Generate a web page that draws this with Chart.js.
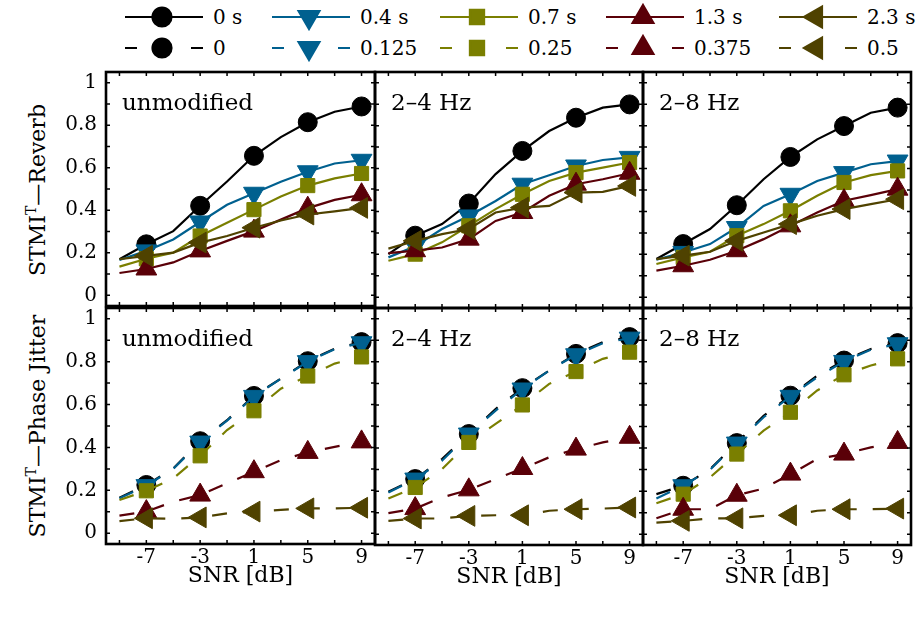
<!DOCTYPE html>
<html>
<head>
<meta charset="utf-8">
<script src="https://cdn.jsdelivr.net/npm/chart.js@4.4.1/dist/chart.umd.min.js"></script>
<style>
  html, body { margin: 0; padding: 0; }
  body { width: 918px; height: 617px; position: relative; overflow: hidden; background: #fff;
         font-family: 'DejaVu Serif', serif; color: #000; }
  canvas.panel { position: absolute; }
  .row-title { position: absolute; white-space: nowrap; font-size: 22px; line-height: 26px;
               transform: translate(-50%, -50%) rotate(-90deg); }
  .row-title sup { font-size: 14px; vertical-align: 9px; line-height: 0; }
  .lg-sym { position: absolute; }
  .lg-txt { position: absolute; font-size: 20px; line-height: 24px; white-space: nowrap; }
</style>
</head>
<body>
<div id="legend"></div>
<div class="row-title" style="left:38px;top:190px">STMI<sup>T</sup>—Reverb</div>
<div class="row-title" style="left:38px;top:426px">STMI<sup>T</sup>—Phase Jitter</div>
<script>
// SNR values of the simulation grid (dB); markers sit on the labelled ones
const snr = [-9, -7, -5, -3, -1, 1, 3, 5, 7, 9];
const snrTicks = [-7, -3, 1, 5, 9];
const stmiTicks = [0, 0.2, 0.4, 0.6, 0.8, 1];
const stmiMinor = [0, 0.1, 0.2, 0.3, 0.4, 0.5, 0.6, 0.7, 0.8, 0.9, 1];

const reverbLabels = ['0 s', '0.4 s', '0.7 s', '1.3 s', '2.3 s'];
const jitterLabels = ['0', '0.125', '0.25', '0.375', '0.5'];
const panelLabels = ['unmodified', '2–4 Hz', '2–8 Hz'];

// STMI^T with reverberation (one list per reverberation time)
const reverbUnmodified = [
  [0.170, 0.240, 0.302, 0.421, 0.535, 0.656, 0.744, 0.814, 0.863, 0.888],
  [0.166, 0.209, 0.263, 0.345, 0.426, 0.480, 0.534, 0.581, 0.620, 0.635],
  [0.135, 0.172, 0.201, 0.279, 0.341, 0.403, 0.465, 0.516, 0.550, 0.573],
  [0.105, 0.124, 0.155, 0.209, 0.256, 0.302, 0.356, 0.410, 0.449, 0.473],
  [0.170, 0.186, 0.201, 0.248, 0.279, 0.318, 0.352, 0.380, 0.395, 0.411]
];
const reverb2to4 = [
  [0.201, 0.287, 0.341, 0.437, 0.574, 0.682, 0.775, 0.837, 0.884, 0.899],
  [0.186, 0.238, 0.318, 0.379, 0.449, 0.527, 0.569, 0.612, 0.640, 0.652],
  [0.170, 0.201, 0.256, 0.333, 0.411, 0.480, 0.542, 0.581, 0.604, 0.628],
  [0.206, 0.217, 0.232, 0.271, 0.356, 0.395, 0.473, 0.527, 0.550, 0.578],
  [0.227, 0.263, 0.294, 0.318, 0.395, 0.418, 0.426, 0.488, 0.491, 0.519]
];
const reverb2to8 = [
  [0.178, 0.248, 0.318, 0.429, 0.550, 0.654, 0.736, 0.798, 0.860, 0.884],
  [0.175, 0.209, 0.248, 0.325, 0.426, 0.480, 0.542, 0.581, 0.620, 0.635],
  [0.155, 0.186, 0.212, 0.287, 0.341, 0.403, 0.473, 0.535, 0.569, 0.589],
  [0.124, 0.147, 0.175, 0.217, 0.271, 0.333, 0.395, 0.450, 0.476, 0.504],
  [0.178, 0.194, 0.212, 0.263, 0.302, 0.341, 0.380, 0.411, 0.434, 0.457]
];

// STMI^T with phase jitter (one list per jitter amount)
const jitterUnmodified = [
  [0.166, 0.225, 0.302, 0.429, 0.527, 0.640, 0.721, 0.802, 0.860, 0.891],
  [0.163, 0.222, 0.300, 0.425, 0.525, 0.638, 0.720, 0.800, 0.858, 0.888],
  [0.155, 0.198, 0.256, 0.361, 0.481, 0.571, 0.674, 0.733, 0.791, 0.822],
  [0.082, 0.101, 0.147, 0.178, 0.233, 0.287, 0.341, 0.377, 0.403, 0.426],
  [0.057, 0.070, 0.067, 0.074, 0.093, 0.101, 0.109, 0.116, 0.116, 0.119]
];
const jitter2to4 = [
  [0.197, 0.256, 0.349, 0.465, 0.581, 0.678, 0.760, 0.837, 0.891, 0.915],
  [0.194, 0.256, 0.341, 0.465, 0.574, 0.674, 0.760, 0.833, 0.887, 0.910],
  [0.166, 0.217, 0.302, 0.426, 0.512, 0.600, 0.698, 0.755, 0.814, 0.845],
  [0.098, 0.119, 0.171, 0.206, 0.256, 0.305, 0.357, 0.395, 0.426, 0.450],
  [0.062, 0.073, 0.073, 0.085, 0.088, 0.088, 0.109, 0.116, 0.119, 0.124]
];
const jitter2to8 = [
  [0.186, 0.225, 0.302, 0.423, 0.550, 0.643, 0.736, 0.806, 0.860, 0.887],
  [0.166, 0.225, 0.299, 0.423, 0.543, 0.640, 0.729, 0.802, 0.856, 0.884],
  [0.144, 0.186, 0.264, 0.372, 0.481, 0.566, 0.667, 0.740, 0.783, 0.814],
  [0.074, 0.116, 0.116, 0.181, 0.212, 0.279, 0.349, 0.372, 0.403, 0.426],
  [0.054, 0.062, 0.073, 0.074, 0.085, 0.088, 0.109, 0.116, 0.116, 0.119]
];

// ---- styling ----
const FONT = "'DejaVu Serif', serif";
Chart.defaults.font.family = FONT;
Chart.defaults.color = '#000';

const colors = ['#000000', '#00608f', '#7a7f00', '#5a0008', '#4f4200'];
const markers = [
  { pointStyle: 'circle',   rotation: 0,   radius: 9.5 },
  { pointStyle: 'triangle', rotation: 180, radius: 12 },
  { pointStyle: 'rect',     rotation: 0,   radius: 10 },
  { pointStyle: 'triangle', rotation: 0,   radius: 12 },
  { pointStyle: 'triangle', rotation: -90, radius: 12 }
];
const DASH = [15, 16];

// panel frame edges on the page
const frameX = [106, 375, 643, 911];
const frameY = [72, 308, 545];
const PAD = 20;

// frame, inward tick marks and the panel caption
const framePlugin = {
  id: 'frame',
  afterDraw(chart, args, opts) {
    const { ctx, chartArea: a } = chart;
    const xs = chart.scales.x, ys = chart.scales.y;
    ctx.save();
    ctx.strokeStyle = '#000';
    ctx.lineWidth = 1.5;
    ctx.beginPath();
    snr.forEach(v => {
      const px = xs.getPixelForValue(v);
      ctx.moveTo(px, a.top); ctx.lineTo(px, a.top + 4);
      ctx.moveTo(px, a.bottom); ctx.lineTo(px, a.bottom - 4);
    });
    stmiMinor.forEach(v => {
      const py = ys.getPixelForValue(v);
      ctx.moveTo(a.left, py); ctx.lineTo(a.left + 4, py);
      ctx.moveTo(a.right, py); ctx.lineTo(a.right - 4, py);
    });
    ctx.stroke();
    ctx.lineWidth = 2.6;
    ctx.strokeRect(a.left, a.top, a.right - a.left, a.bottom - a.top);
    ctx.fillStyle = '#000';
    ctx.font = "23px " + FONT;
    ctx.textAlign = 'left';
    ctx.textBaseline = 'alphabetic';
    ctx.fillText(opts.label, a.left + 16, a.top + 38);
    ctx.restore();
  }
};

function makePanel(row, col, series, labels, dashed) {
  const left = frameX[col], right = frameX[col + 1];
  const top = frameY[row], bottom = frameY[row + 1];
  const yAxisW = col === 0 ? left : 0;
  const xAxisH = row === 1 ? 617 - bottom : 0;
  const x0 = col === 0 ? 0 : left - PAD;
  const y0 = top - PAD;
  const w = right + PAD - x0;
  const h = row === 1 ? 617 - y0 : bottom + PAD - y0;

  const canvas = document.createElement('canvas');
  canvas.className = 'panel';
  canvas.width = w; canvas.height = h;
  canvas.style.left = x0 + 'px'; canvas.style.top = y0 + 'px';
  document.body.appendChild(canvas);

  const datasets = series.map((vals, i) => ({
    label: labels[i],
    data: snr.map((s, k) => ({ x: s, y: vals[k] })),
    borderColor: colors[i],
    backgroundColor: colors[i],
    borderWidth: 2.2,
    borderDash: dashed ? DASH : [],
    pointStyle: markers[i].pointStyle,
    rotation: markers[i].rotation,
    pointRadius: c => snrTicks.includes(snr[c.dataIndex]) ? markers[i].radius : 0,
    pointBorderWidth: 1,
    pointBorderColor: colors[i],
    pointBackgroundColor: colors[i],
    tension: 0,
    order: series.length - i
  }));

  const chart = new Chart(canvas, {
    type: 'line',
    data: { datasets },
    plugins: [framePlugin],
    options: {
      responsive: false,
      animation: false,
      events: [],
      layout: { padding: { left: col === 0 ? 0 : PAD, right: PAD, top: PAD, bottom: row === 1 ? 0 : PAD } },
      plugins: {
        legend: { display: false },
        tooltip: { enabled: false },
        frame: { label: panelLabels[col] }
      },
      scales: {
        x: {
          type: 'linear', min: -10, max: 10,
          display: row === 1,
          afterBuildTicks: s => { s.ticks = snr.map(v => ({ value: v })); },
          afterFit: s => { s.height = xAxisH; },
          grid: { display: false, drawTicks: false },
          border: { display: false },
          ticks: {
            autoSkip: false, maxRotation: 0, padding: 2,
            font: { size: 20 },
            callback: v => snrTicks.includes(v) ? String(v) : ''
          },
          title: { display: true, text: 'SNR [dB]', font: { size: 22 }, padding: { top: 0, bottom: 27 } }
        },
        y: {
          type: 'linear', min: -0.05, max: 1.05,
          display: col === 0,
          afterBuildTicks: s => { s.ticks = stmiMinor.map(v => ({ value: v })); },
          afterFit: s => { s.width = yAxisW; },
          grid: { display: false, drawTicks: false },
          border: { display: false },
          ticks: {
            autoSkip: false, padding: 9,
            font: { size: 20 },
            callback: v => {
              const t = stmiTicks.find(k => Math.abs(k - v) < 1e-6);
              return t === undefined ? '' : String(t);
            }
          }
        }
      }
    }
  });

  // put the plotting area exactly on the panel frame
  const a = chart.chartArea;
  canvas.style.left = (left - a.left) + 'px';
  canvas.style.top = (top - a.top) + 'px';
  return chart;
}

const reverbPanels = [reverbUnmodified, reverb2to4, reverb2to8];
const jitterPanels = [jitterUnmodified, jitter2to4, jitter2to8];
reverbPanels.forEach((s, c) => makePanel(0, c, s, reverbLabels, false));
jitterPanels.forEach((s, c) => makePanel(1, c, s, jitterLabels, true));

// ---- legend: two rows, reverberation times above, jitter amounts below ----
const legendCols = [125, 272, 440, 606, 779];
const legendRows = [17, 48];
const legend = document.getElementById('legend');
[[reverbLabels, false], [jitterLabels, true]].forEach(([labels, dashed], r) => {
  labels.forEach((lab, i) => {
    const sym = document.createElement('canvas');
    sym.className = 'lg-sym';
    sym.width = 78; sym.height = 28;
    sym.style.left = legendCols[i] + 'px';
    sym.style.top = (legendRows[r] - 14) + 'px';
    legend.appendChild(sym);
    const g = sym.getContext('2d');
    g.strokeStyle = colors[i];
    g.fillStyle = colors[i];
    g.lineWidth = 2.2;
    g.setLineDash(dashed ? [12, 54] : []);
    g.beginPath(); g.moveTo(0, 14); g.lineTo(78, 14); g.stroke();
    g.setLineDash([]);
    Chart.helpers.drawPoint(g, {
      pointStyle: markers[i].pointStyle, rotation: markers[i].rotation,
      radius: markers[i].radius, borderWidth: 1
    }, 37, 14);

    const txt = document.createElement('div');
    txt.className = 'lg-txt';
    txt.textContent = lab;
    txt.style.left = (legendCols[i] + 88) + 'px';
    txt.style.top = (legendRows[r] - 12) + 'px';
    legend.appendChild(txt);
  });
});
</script>
</body>
</html>
